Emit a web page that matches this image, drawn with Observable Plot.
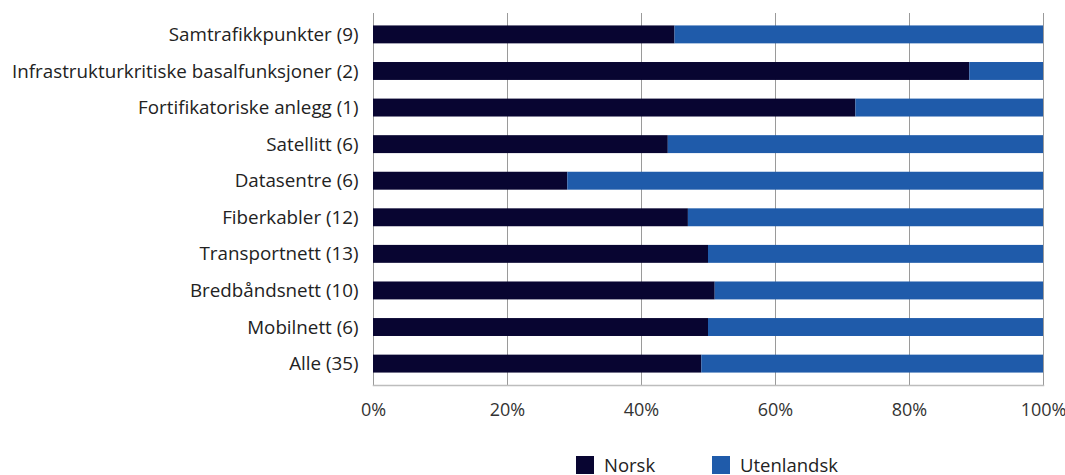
<!DOCTYPE html>
<html>
<head>
<meta charset="utf-8">
<script src="https://cdn.jsdelivr.net/npm/d3@7"></script>
<script src="https://cdn.jsdelivr.net/npm/@observablehq/plot@0.6"></script>
<style>
  body { margin: 0; background: #fff; font-family: "Open Sans", sans-serif; }
  #chart svg { display: block; }
  .legend { position: relative; height: 45px; font-family: "Open Sans", sans-serif; font-size: 18.5px; color: #222; }
  .legend .item { position: absolute; top: 26px; display: flex; align-items: center; line-height: 18px; }
  .legend .sw { width: 18px; height: 18px; margin-right: 10px; }
</style>
</head>
<body>
<div id="chart"></div>
<div class="legend">
  <div class="item" style="left:576px"><span class="sw" style="background:#080531"></span>Norsk</div>
  <div class="item" style="left:712px"><span class="sw" style="background:#1f5baa"></span>Utenlandsk</div>
</div>
<script>
const categories = [
  "Samtrafikkpunkter (9)",
  "Infrastrukturkritiske basalfunksjoner (2)",
  "Fortifikatoriske anlegg (1)",
  "Satellitt (6)",
  "Datasentre (6)",
  "Fiberkabler (12)",
  "Transportnett (13)",
  "Bredbåndsnett (10)",
  "Mobilnett (6)",
  "Alle (35)"
];
const norsk = [45, 89, 72, 44, 29, 47, 50, 51, 50, 49];
const utenlandsk = [55, 11, 28, 56, 71, 53, 50, 49, 50, 51];
const seriesNames = ["Norsk", "Utenlandsk"];
const seriesColors = ["#080531", "#1f5baa"];
const xTicks = [0, 20, 40, 60, 80, 100];

const rows = [];
categories.forEach((c, i) => {
  rows.push({category: c, series: "Norsk", value: norsk[i]});
  rows.push({category: c, series: "Utenlandsk", value: utenlandsk[i]});
});

const chart = Plot.plot({
  width: 1065,
  height: 430,
  marginLeft: 373,
  marginRight: 22,
  marginTop: 13,
  marginBottom: 45,
  style: {fontFamily: "Open Sans, sans-serif", fontSize: "18.5px", color: "#222", overflow: "visible"},
  x: {domain: [0, 100], ticks: xTicks, label: null},
  y: {domain: categories, paddingInner: 0.51, paddingOuter: 0.34, round: false, label: null},
  color: {domain: seriesNames, range: seriesColors},
  marks: [
    Plot.ruleX(xTicks, {stroke: "#9a9a9a", strokeWidth: 1}),
    Plot.barX(rows, Plot.stackX({x: "value", y: "category", fill: "series", order: seriesNames})),
    Plot.axisX({ticks: xTicks, tickSize: 0, tickPadding: 18, tickFormat: d => d + "%", fontSize: 18, fill: "#333", label: null}),
    Plot.axisY({tickSize: 0, tickPadding: 15, fontSize: 18.8, fill: "#222", label: null}),
    Plot.frame({anchor: "bottom", stroke: "#bdbdbd", strokeWidth: 1.5})
  ]
});
document.getElementById("chart").appendChild(chart);
</script>
</body>
</html>
